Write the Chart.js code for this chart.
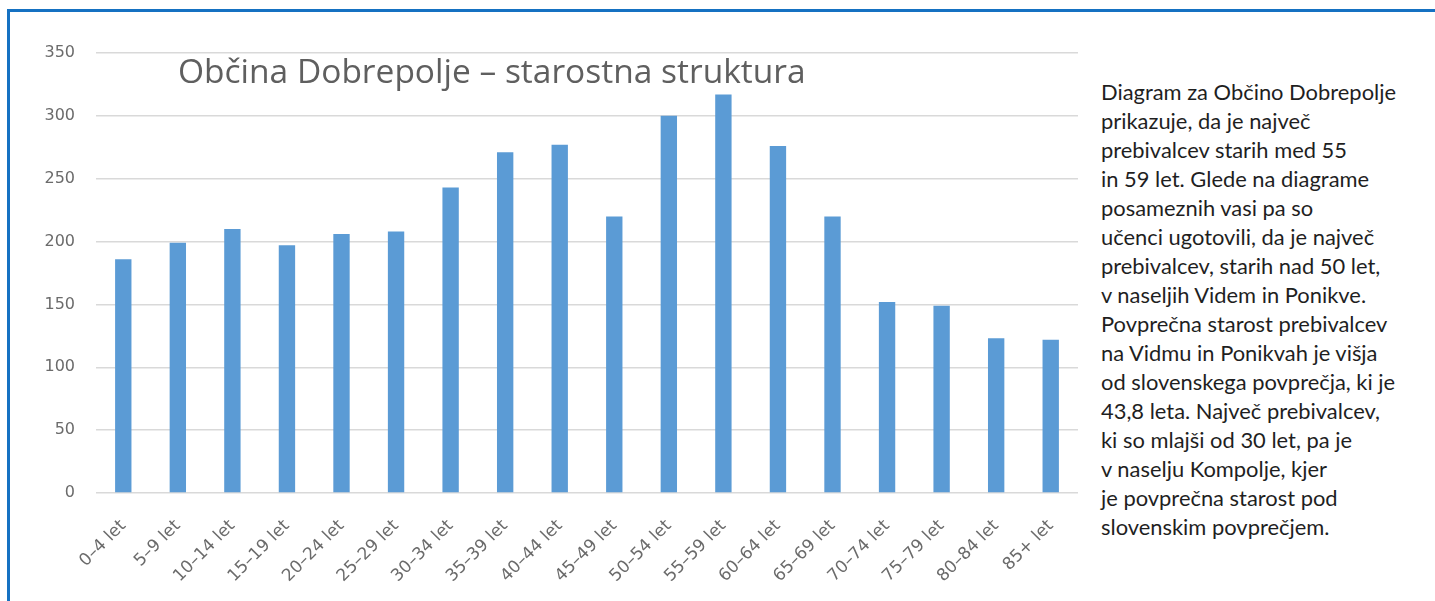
<!DOCTYPE html>
<html>
<head>
<meta charset="utf-8">
<script src="https://cdn.jsdelivr.net/npm/chart.js@4/dist/chart.umd.min.js"></script>
<style>
	html, body { margin: 0; padding: 0; background: #fff; overflow: hidden; }
	body { width: 1435px; height: 601px; position: relative; }
	.frame {
		position: absolute; left: 7px; top: 9px; width: 1500px; height: 700px;
		border-top: 3px solid #1571c2; border-left: 3px solid #1571c2;
	}
	.chart-box { position: absolute; left: 0; top: 0; width: 1090px; height: 601px; }
	.note {
		position: absolute; left: 1101px; top: 77px; width: 330px;
		font-family: Lato, sans-serif; font-size: 21.9px; line-height: 29px; color: #1f1f1f;
	}
</style>
</head>
<body>
<div class="frame"></div>
<div class="chart-box"><canvas id="ageChart"></canvas></div>
<div class="note">
	Diagram za Občino Dobrepolje<br>
	prikazuje, da je največ<br>
	prebivalcev starih med 55<br>
	in 59 let. Glede na diagrame<br>
	posameznih vasi pa so<br>
	učenci ugotovili, da je največ<br>
	prebivalcev, starih nad 50 let,<br>
	v naseljih Videm in Ponikve.<br>
	Povprečna starost prebivalcev<br>
	na Vidmu in Ponikvah je višja<br>
	od slovenskega povprečja, ki je<br>
	43,8 leta. Največ prebivalcev,<br>
	ki so mlajši od 30 let, pa je<br>
	v naselju Kompolje, kjer<br>
	je povprečna starost pod<br>
	slovenskim povprečjem.
</div>
<script>
const ageGroups = ['0–4 let', '5–9 let', '10–14 let', '15–19 let', '20–24 let', '25–29 let',
	'30–34 let', '35–39 let', '40–44 let', '45–49 let', '50–54 let', '55–59 let',
	'60–64 let', '65–69 let', '70–74 let', '75–79 let', '80–84 let', '85+ let'];
const residents = [186, 199, 210, 197, 206, 208, 243, 271, 277, 220, 300, 317, 276, 220, 152, 149, 123, 122];
const yMin = 0;
const yMax = 350;
const yStep = 50;
const chartTitle = 'Občina Dobrepolje – starostna struktura';

// title sits inside the plot, left of centre, like in the Excel original
const insideTitle = {
	id: 'insideTitle',
	beforeDatasetsDraw(chart, args, opts) {
		const { ctx, chartArea } = chart;
		ctx.save();
		ctx.font = opts.font;
		ctx.fillStyle = opts.color;
		ctx.textBaseline = 'middle';
		ctx.textAlign = 'left';
		ctx.fillText(opts.text, chartArea.left + opts.dx, chartArea.top + opts.dy);
		ctx.restore();
	}
};

const place = document.getElementById('ageChart');

new Chart(place, {
	type: 'bar',
	data: {
		labels: ageGroups,
		datasets: [{
			data: residents,
			backgroundColor: '#5b9bd5',
			borderWidth: 0,
			categoryPercentage: 1,
			barPercentage: 0.3,
		}]
	},
	options: {
		responsive: true,
		maintainAspectRatio: false,
		animation: false,
		layout: {
			padding: {
				left: 0,
				right: 12,
				top: 53,
				bottom: 0
			}
		},
		scales: {
			x: {
				border: { display: false },
				grid: { display: false, drawTicks: false },
				ticks: {
					minRotation: 45,
					maxRotation: 45,
					padding: 23,
					color: '#6b6b6b',
					font: { size: 17, family: 'DejaVu Sans' },
				},
				afterFit(scale) { scale.height = 108; }
			},
			y: {
				min: yMin,
				max: yMax,
				border: { display: false },
				grid: { color: '#d9d9d9', lineWidth: 1.5, drawTicks: false },
				ticks: {
					stepSize: yStep,
					padding: 21,
					color: '#6b6b6b',
					font: { size: 16, family: 'DejaVu Sans' },
				},
				afterFit(scale) { scale.width = 96; }
			}
		},
		plugins: {
			legend: { display: false },
			tooltip: { enabled: false },
			insideTitle: {
				text: chartTitle,
				font: '33.5px "Open Sans"',
				color: '#5f5f5f',
				dx: 82,
				dy: 20,
			}
		}
	},
	plugins: [insideTitle]
});
</script>
</body>
</html>
